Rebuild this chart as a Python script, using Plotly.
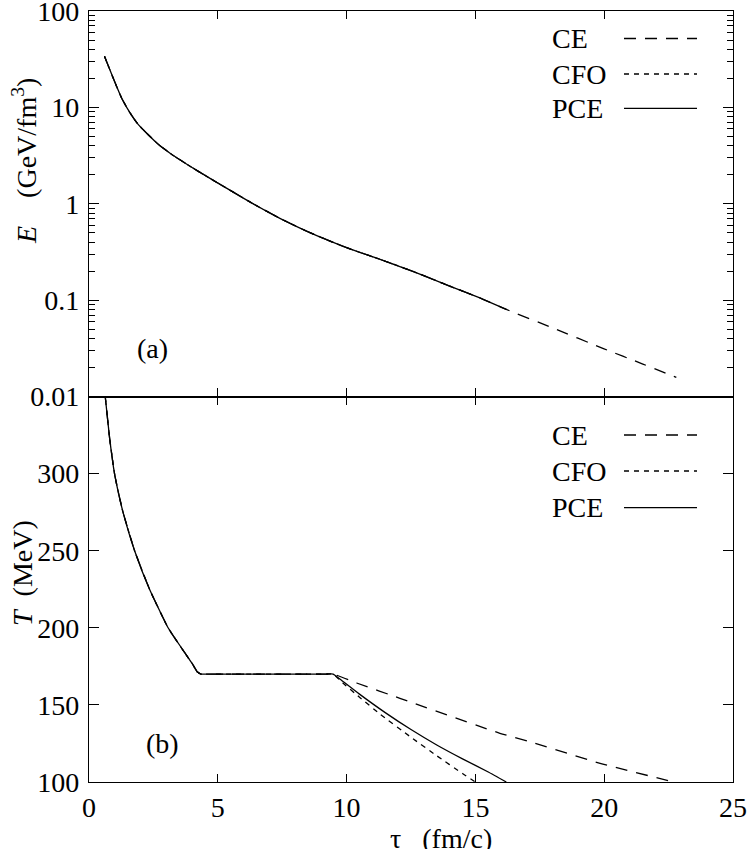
import plotly.graph_objects as go
from plotly.subplots import make_subplots

# ---------------- data ----------------
# energy density (all three models share the same curve; they end at different tau)
tau_E = [0.6, 0.93, 1.26, 1.6, 1.9, 2.24, 2.7, 3.2, 3.53, 4.0, 4.49, 5.0, 5.6, 6.37,
         7.41, 8.4, 9.36, 10.13, 11.3, 12.72, 14.0, 15.0, 15.3, 16.2, 18.0, 19.97, 21.5, 22.8]
E_val = [34.0, 20.4, 12.6, 8.7, 6.7, 5.4, 4.12, 3.27, 2.86, 2.38, 1.98, 1.64, 1.32, 1.0,
         0.706, 0.527, 0.409, 0.34, 0.265, 0.192, 0.140, 0.110, 0.102, 0.080, 0.0515, 0.0314, 0.0217, 0.0158]
E_end = {"CE": 22.8, "CFO": 15.0, "PCE": 16.2}

# temperature: common part (QGP + mixed phase plateau at 170 MeV)
tau_T_common = [0.6, 0.63, 0.8, 0.99, 1.15, 1.32, 1.77, 2.35, 3.07, 3.71, 4.0, 4.2, 4.35,
                4.6, 5.5, 6.5, 7.5, 8.5, 9.2, 9.48]
T_common = [354, 350, 323, 300, 287, 275, 250, 225, 200, 184, 177, 171.5, 170,
            170, 170, 170, 170, 170, 170, 170]

# hadronic tails
tau_T_CE = [9.48, 10.39, 12.07, 15.95, 17.12, 19.84, 22.7]
T_CE = [170, 164.2, 154.3, 131.6, 126.1, 112.1, 100]
tau_T_CFO = [9.48, 9.8, 10.5, 11.3, 12.5, 13.5, 14.5, 15.0]
T_CFO = [170, 165, 155, 144, 129, 117, 105.5, 100]
tau_T_PCE = [9.48, 9.8, 10.5, 11.5, 12.5, 13.5, 14.5, 15.5, 16.2]
T_PCE = [170, 166, 157, 145, 134, 124, 115, 106.5, 100]

series = ["CE", "CFO", "PCE"]
dashes = {"CE": "12px,9px", "CFO": "5px,5px", "PCE": "solid"}

x_ticks = [0, 5, 10, 15, 20, 25]
E_ticks = [0.01, 0.1, 1, 10, 100]
E_ticklabels = ["0.01", "0.1", "1", "10", "100"]
T_ticks = [100, 150, 200, 250, 300]

FONT = "Liberation Serif"
FS = 28

fig = make_subplots(rows=2, cols=1, shared_xaxes=False, vertical_spacing=0.0)

tails = {"CE": (tau_T_CE, T_CE), "CFO": (tau_T_CFO, T_CFO), "PCE": (tau_T_PCE, T_PCE)}
for s in series:
    xs = [t for t in tau_E if t <= E_end[s] + 1e-9]
    ys = E_val[:len(xs)]
    fig.add_trace(go.Scatter(x=xs, y=ys, mode="lines", showlegend=False, line_shape="spline",
                             line=dict(color="black", width=1.3, dash=dashes[s], smoothing=0.6)),
                  row=1, col=1)
for s in series:
    tx, ty = tails[s]
    xs = tau_T_common[:-1] + tx
    ys = T_common[:-1] + ty
    fig.add_trace(go.Scatter(x=xs, y=ys, mode="lines", showlegend=False, line_shape="spline",
                             line=dict(color="black", width=1.3, dash=dashes[s], smoothing=0.4)),
                  row=2, col=1)

axis_common = dict(showline=True, linecolor="black", linewidth=1.1, mirror="ticks",
                   ticks="inside", tickcolor="black", tickwidth=1.2, showgrid=False, zeroline=False,
                   automargin=False, ticklabeloverflow="allow",
                   tickfont=dict(family=FONT, size=FS, color="black"))

fig.update_xaxes(range=[0, 25], tickvals=x_ticks, ticklen=8, **axis_common)
fig.update_xaxes(showticklabels=False, row=1, col=1)
fig.update_xaxes(ticktext=[str(v) for v in x_ticks], row=2, col=1)

fig.update_yaxes(type="log", range=[-2.0003, 2.0003], tickvals=E_ticks, ticktext=E_ticklabels, ticklen=10,
                 ticklabelstandoff=3,
                 minor=dict(ticks="inside", ticklen=6, tickcolor="black", tickwidth=1.0,
                            dtick="D1", showgrid=False),
                 row=1, col=1, **axis_common)
fig.update_yaxes(range=[100, 350], tickvals=T_ticks, ticklen=10, ticklabelstandoff=3,
                 row=2, col=1, **axis_common)

# helpers for pixel -> paper
L, R, T, B = 89, 733, 11, 782
def px(x):
    return (x - L) / (R - L)
def py(y):
    return (B - y) / (B - T)

def note(text, x, y, angle=0, xa="center"):
    return dict(text=text, x=px(x), y=py(y), xref="paper", yref="paper", showarrow=False,
                xanchor=xa, yanchor="middle", textangle=angle,
                font=dict(family=FONT, size=FS, color="black"))

ann = []
ann.append(note("(a)", 152, 348))
ann.append(note("(b)", 162, 743))
ann.append(note("<i>E</i>\u00a0\u00a0\u00a0\u00a0(GeV/fm<sup>3</sup>)", 25, 161, angle=-90))
ann.append(note("<i>T</i>\u00a0\u00a0(MeV)", 22, 573, angle=-90))
ann.append(note("\u03c4\u00a0\u00a0\u00a0(fm/c)", 441, 838))

shapes = []
leg_rows = {"top": [38.5, 74, 108.3], "bottom": [435, 471, 507.7]}
for key in leg_rows:
    for s, yy in zip(series, leg_rows[key]):
        ann.append(note(s, 550, yy, xa="left"))
        shapes.append(dict(type="line", xref="paper", yref="paper", x0=px(624), x1=px(697),
                           y0=py(yy), y1=py(yy),
                           line=dict(color="black", width=1.3, dash=dashes[s])))

fig.update_layout(width=749, height=849, margin=dict(l=L, r=749 - R, t=T, b=849 - B),
                  paper_bgcolor="white", plot_bgcolor="white",
                  annotations=ann, shapes=shapes, showlegend=False)

fig.write_html("out.html", config={"displayModeBar": False},
               post_script="document.body.style.margin='0';")
